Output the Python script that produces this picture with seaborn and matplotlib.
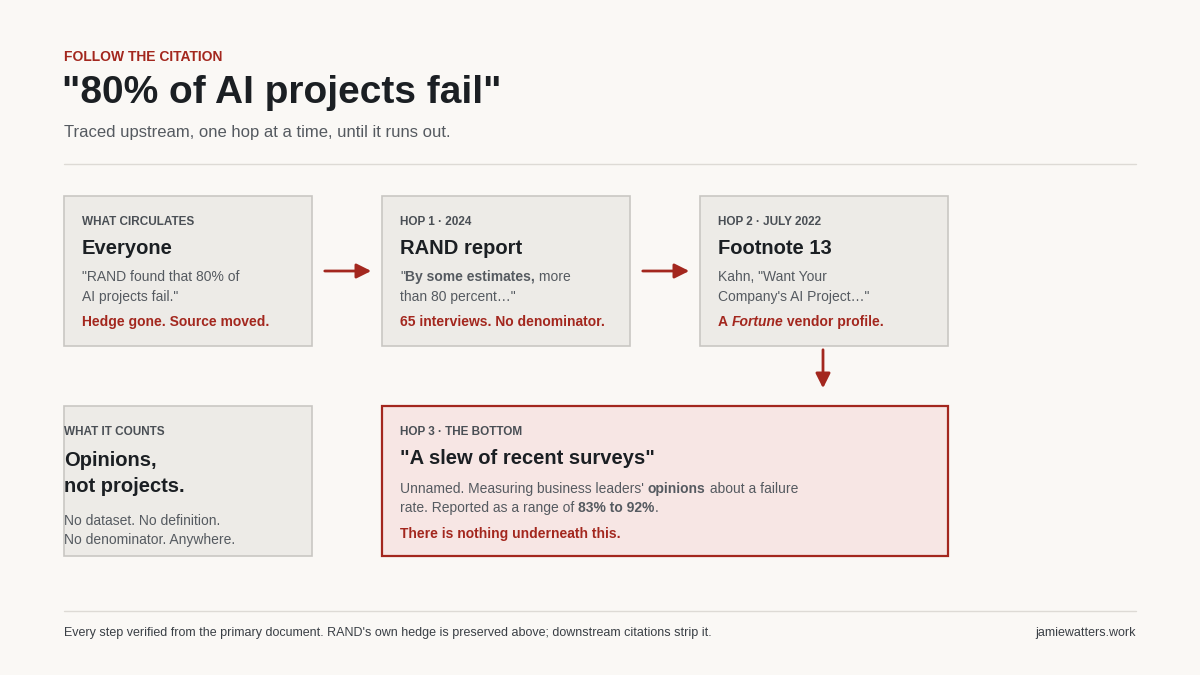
import matplotlib
matplotlib.use("Agg")
import matplotlib.pyplot as plt
from matplotlib.patches import Rectangle, FancyArrowPatch
import seaborn as sns

sns.set_theme(style="white")
plt.rcParams['font.family'] = ['Liberation Sans', 'DejaVu Sans']

BG = '#faf8f5'
RED = '#a3271e'
INK = '#1b1f23'
GREY = '#555a60'
BOX = '#edebe7'
EDGE = '#c9c7c3'

# header / footer text
kicker = 'FOLLOW THE CITATION'
headline = '"80% of AI projects fail"'
subtitle = 'Traced upstream, one hop at a time, until it runs out.'
footer_left = "Every step verified from the primary document. RAND's own hedge is preserved above; downstream citations strip it."
footer_right = 'jamiewatters.work'

# chain boxes (segments: text, weight, style)
hop_kickers = ['WHAT CIRCULATES', 'HOP 1 · 2024', 'HOP 2 · JULY 2022']
hop_titles = ['Everyone', 'RAND report', 'Footnote 13']
hop_bodies = [
    [[('"RAND found that 80% of', 'normal', 'normal')], [('AI projects fail."', 'normal', 'normal')]],
    [[('"', 'normal', 'normal'), ('By some estimates,', 'bold', 'normal'), (' more', 'normal', 'normal')],
     [('than 80 percent…"', 'normal', 'normal')]],
    [[('Kahn, "Want Your', 'normal', 'normal')], [('Company\'s AI Project…"', 'normal', 'normal')]],
]
hop_notes = [
    [('Hedge gone. Source moved.', 'bold', 'normal')],
    [('65 interviews. No denominator.', 'bold', 'normal')],
    [('A ', 'bold', 'normal'), ('Fortune', 'bold', 'italic'), (' vendor profile.', 'bold', 'normal')],
]

counts_kicker = 'WHAT IT COUNTS'
counts_title = ['Opinions,', 'not projects.']
counts_body = ['No dataset. No definition.', 'No denominator. Anywhere.']

bottom_kicker = 'HOP 3 · THE BOTTOM'
bottom_title = '"A slew of recent surveys"'
bottom_body = [
    [('Unnamed. Measuring business leaders\' ', 'normal', 'normal'), ('opinions', 'bold', 'normal'),
     (' about a failure', 'normal', 'normal')],
    [('rate. Reported as a range of ', 'normal', 'normal'), ('83% to 92%', 'bold', 'normal'), ('.', 'normal', 'normal')],
]
bottom_note = 'There is nothing underneath this.'

fig = plt.figure(figsize=(12, 6.75), dpi=100, facecolor=BG)
ax = fig.add_axes([0, 0, 1, 1])
ax.set_xlim(0, 1200)
ax.set_ylim(675, 0)
ax.axis('off')
ax.set_facecolor(BG)
renderer = fig.canvas.get_renderer()


def rich(x, y, segs, size, color):
    for txt, w, st in segs:
        t = ax.text(x, y, txt, fontsize=size, fontweight=w, fontstyle=st, color=color, va='center', ha='left')
        bb = t.get_window_extent(renderer)
        x += bb.width


def box(x0, y0, x1, y1, fc=BOX, ec=EDGE, lw=1.2):
    ax.add_patch(Rectangle((x0, y0), x1 - x0, y1 - y0, fc=fc, ec=ec, lw=lw))


# header
ax.text(64, 57, kicker, fontsize=10, fontweight='bold', color=RED, va='center')
ax.text(62, 93, headline, fontsize=28, fontweight='bold', color=INK, va='center')
ax.text(64, 132, subtitle, fontsize=12, color=GREY, va='center')
ax.plot([64, 1136], [164, 164], color='#dddad5', lw=1)

# chain
xs = [64, 382, 700]
for i, x in enumerate(xs):
    box(x, 196, x + 248, 346)
    tx = x + 18
    ax.text(tx, 222, hop_kickers[i], fontsize=8.5, fontweight='bold', color='#4a4f55', va='center')
    ax.text(tx, 249, hop_titles[i], fontsize=14.5, fontweight='bold', color=INK, va='center')
    rich(tx, 277, hop_bodies[i][0], 10, GREY)
    rich(tx, 297, hop_bodies[i][1], 10, GREY)
    rich(tx, 322, hop_notes[i], 10, RED)

for xa, xb in [(322, 374), (640, 692)]:
    ax.add_patch(FancyArrowPatch((xa, 271), (xb, 271), arrowstyle='-|>', mutation_scale=22, color=RED, lw=2))
ax.add_patch(FancyArrowPatch((823, 347), (823, 391), arrowstyle='-|>', mutation_scale=22, color=RED, lw=2))

# what it counts
box(64, 406, 312, 556)
ax.text(64, 432, counts_kicker, fontsize=8.5, fontweight='bold', color='#4a4f55', va='center')
ax.text(64, 461, counts_title[0], fontsize=14.5, fontweight='bold', color=INK, va='center')
ax.text(64, 487, counts_title[1], fontsize=14.5, fontweight='bold', color=INK, va='center')
ax.text(64, 521, counts_body[0], fontsize=10, color=GREY, va='center')
ax.text(64, 540, counts_body[1], fontsize=10, color=GREY, va='center')

# bottom
box(382, 406, 948, 556, fc='#f7e6e4', ec=RED, lw=1.6)
ax.text(400, 432, bottom_kicker, fontsize=8.5, fontweight='bold', color='#4a4f55', va='center')
ax.text(400, 459, bottom_title, fontsize=14.5, fontweight='bold', color=INK, va='center')
rich(400, 489, bottom_body[0], 10, GREY)
rich(400, 508, bottom_body[1], 10, GREY)
ax.text(400, 534, bottom_note, fontsize=10, fontweight='bold', color=RED, va='center')

# footer
ax.plot([64, 1136], [611, 611], color='#dddad5', lw=1)
ax.text(64, 633, footer_left, fontsize=9, color='#3a3f45', va='center')
ax.text(1136, 633, footer_right, fontsize=9, color='#3a3f45', va='center', ha='right')

fig.savefig('out.png', dpi=100, facecolor=BG)
